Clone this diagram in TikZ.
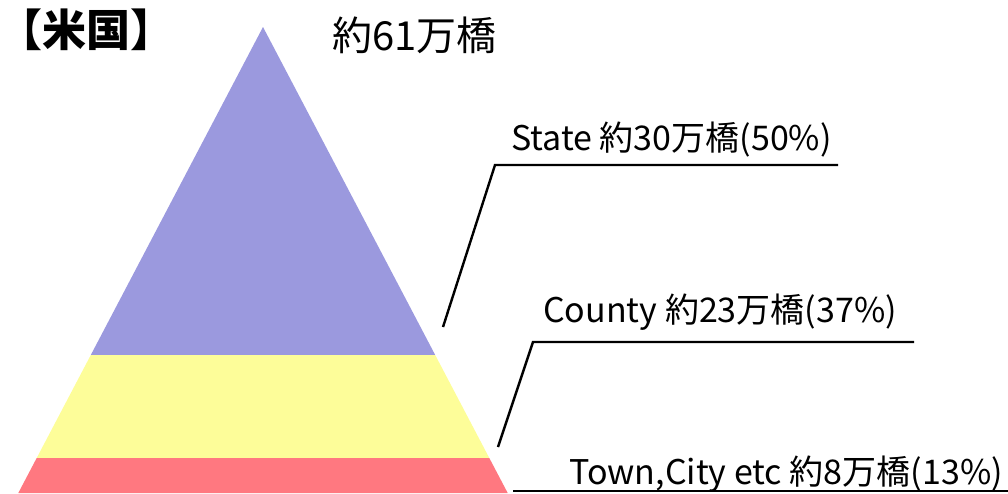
\documentclass[tikz,border=0pt]{standalone}
\usepackage{fontspec}
\setmainfont{Noto Sans CJK JP}
\definecolor{tierblue}{RGB}{155,153,222}
\definecolor{tieryellow}{RGB}{253,253,153}
\definecolor{tierred}{RGB}{255,120,128}
\begin{document}
\begin{tikzpicture}[x=1pt,y=-1pt,
  leader/.style={draw=black, line width=2.4pt},
  lbl/.style={anchor=base west, inner sep=0pt, font=\fontsize{34}{34}\selectfont, yscale=1.0},
  tier/.style={draw=none}]
\useasboundingbox (0,0) rectangle (1008,493);
% pyramid
\coordinate (apex) at (263,27);
\coordinate (bl) at (90.8,355);  \coordinate (br) at (435.2,355);
\coordinate (yl) at (36.7,458);  \coordinate (yr) at (489.3,458);
\coordinate (rl) at (18.3,493);  \coordinate (rr) at (507.7,493);
\fill[tierblue] (apex) -- (bl) -- (br) -- cycle;
\fill[tieryellow] (bl) -- (yl) -- (yr) -- (br) -- cycle;
\fill[tierred] (yl) -- (rl) -- (rr) -- (yr) -- cycle;
% titles
\node[anchor=base west, inner sep=0pt, font=\fontsize{44}{44}\selectfont\bfseries] (title) at (-2,46) {【米国】};
\node[anchor=base west, inner sep=0pt, font=\fontsize{40}{40}\selectfont] (total) at (332,50) {約61万橋};
% labels
\node[lbl] (state) at (511,150) {State 約30万橋(50\%)};
\node[lbl] (county) at (543,322) {County 約23万橋(37\%)};
\node[lbl] (town) at (569,484) {Town,City etc 約8万橋(13\%)};
% leaders
\coordinate (s1) at (443,327); \coordinate (s2) at (495,165); \coordinate (s3) at (838,165);
\coordinate (c1) at (498,447); \coordinate (c2) at (533,342); \coordinate (c3) at (914,342);
\coordinate (t1) at (513,491); \coordinate (t3) at (1008,491);
\draw[leader] (s1) -- (s2) -- (s3);
\draw[leader] (c1) -- (c2) -- (c3);
\draw[leader] (t1) -- (t3);
\end{tikzpicture}
\end{document}
